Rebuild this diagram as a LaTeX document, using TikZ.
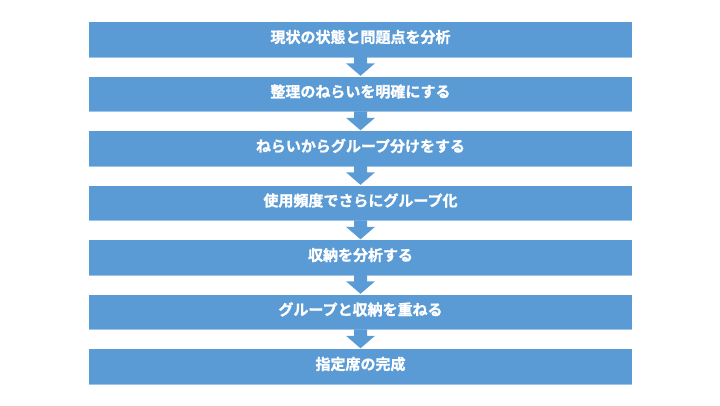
\documentclass[tikz,border=0pt]{standalone}
\usepackage{fontspec}
\newfontfamily\jp{Noto Sans CJK JP}[BoldFont={Noto Sans CJK JP Bold},BoldFeatures={FakeBold=1.2}]
\usetikzlibrary{calc}
\definecolor{boxblue}{HTML}{5B9BD5}
\definecolor{edgeblue}{HTML}{9DC3E6}
\tikzset{
  stepbox/.style={fill=boxblue, draw=none, minimum width=543pt, minimum height=34.3pt,
    inner sep=0pt, text height=6.5pt, text depth=0pt, text=white,
    font=\jp\bfseries\fontsize{15}{18}\selectfont},
  flowarrow/.style={fill=boxblue, draw=none}
}
\newcommand{\blockarrow}[2]{%
  \fill[flowarrow] ($(#1.south)+(-6.5,0)$) -- ($(#1.south)+(-6.5,6.5)$) -- ($(#1.south)+(-14.5,6.5)$)
    -- ($(#2.north)+(0,-0.8)$) -- ($(#1.south)+(14.5,6.5)$) -- ($(#1.south)+(6.5,6.5)$)
    -- ($(#1.south)+(6.5,0)$) -- cycle;}
\begin{document}
\begin{tikzpicture}[x=1pt,y=-1pt]
\useasboundingbox (0,0) rectangle (720,405);
\node[stepbox] (b1) at (360.5,39.45) {現状の状態と問題点を分析};
\node[stepbox] (b2) at (360.5,93.95) {整理のねらいを明確にする};
\node[stepbox] (b3) at (360.5,148.45) {ねらいからグループ分けをする};
\node[stepbox] (b4) at (360.5,202.95) {使用頻度でさらにグループ化};
\node[stepbox] (b5) at (360.5,257.45) {収納を分析する};
\node[stepbox] (b6) at (360.5,311.95) {グループと収納を重ねる};
\node[stepbox] (b7) at (360.5,366.45) {指定席の完成};
\foreach \i in {1,...,7}{
  \draw[edgeblue, line width=0.8pt] ($(b\i.south west)+(0,0.4)$) -- ($(b\i.south east)+(0,0.4)$);
}
\blockarrow{b1}{b2}
\blockarrow{b2}{b3}
\blockarrow{b3}{b4}
\blockarrow{b4}{b5}
\blockarrow{b5}{b6}
\blockarrow{b6}{b7}
\end{tikzpicture}
\end{document}
